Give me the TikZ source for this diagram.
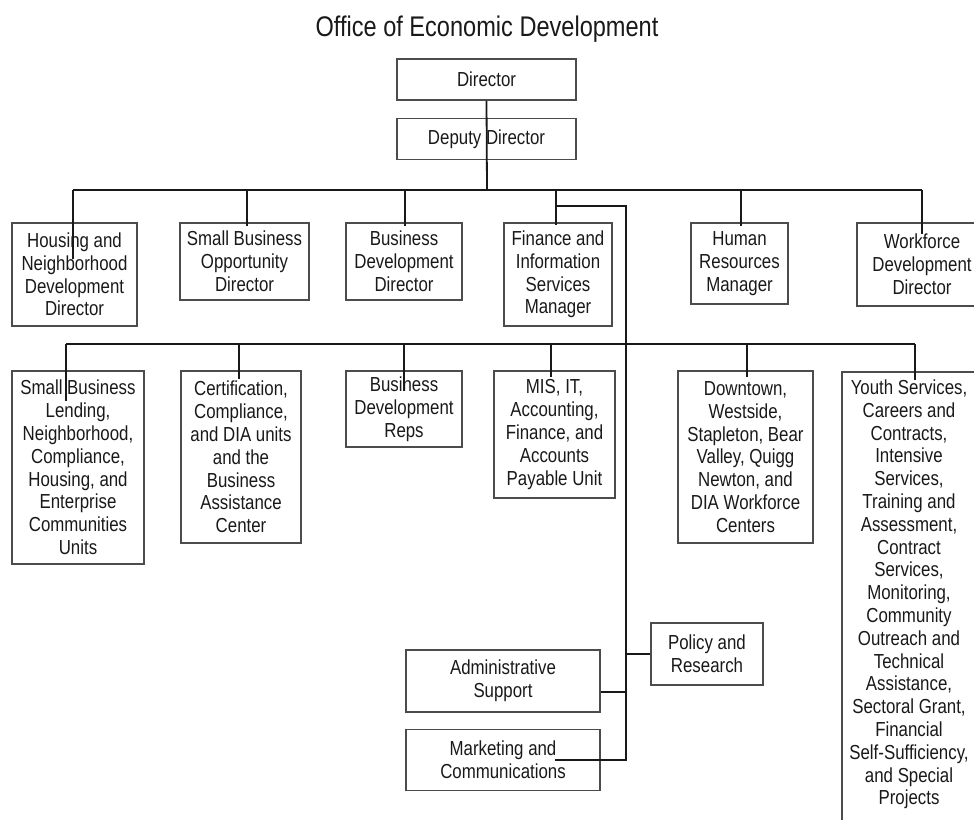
\documentclass[tikz,border=0pt]{standalone}
\usepackage{fontspec}
\setmainfont{Liberation Sans}[FakeStretch=0.83]
\usetikzlibrary{positioning}

\begin{document}
\begin{tikzpicture}[
  x=1pt, y=-1pt,
  font=\fontsize{20.3}{22.8}\selectfont,
  box/.style={draw=black!70, line width=1.6pt, align=center,
              text=black!90, inner sep=2pt},
  link/.style={line width=1.8pt, black!90},
  heading/.style={font=\fontsize{28.4}{32}\selectfont, text=black!90}
]
\useasboundingbox (0,0) rectangle (974,819);
\clip (0,0) rectangle (974,819);

% Title and the two top offices.
\node[heading, anchor=base] (title) at (487,36) {Office of Economic Development};
\node[box, minimum width=179pt, minimum height=41pt] (dir) at (486.5,79.5) {Director};
\node[box, minimum width=179pt, minimum height=41pt, below=17pt of dir] (dep) {Deputy Director};

% First row: directors and managers.
\node[box, minimum width=125pt, minimum height=103pt] (hnd) at (74.5,274.5)
  {Housing and\\Neighborhood\\Development\\Director};
\node[box, minimum width=129pt, minimum height=77pt] (sbo) at (244.5,261.5)
  {Small Business\\Opportunity\\Director};
\node[box, minimum width=116pt, minimum height=77pt] (bdd) at (404,261.5)
  {Business\\Development\\Director};
\node[box, minimum width=108pt, minimum height=103pt] (fis) at (558,274.5)
  {Finance and\\Information\\Services\\Manager};
\node[box, minimum width=97pt, minimum height=81pt] (hr) at (739.5,263.5)
  {Human\\Resources\\Manager};
\node[box, minimum width=130pt, minimum height=83pt] (wdd) at (922,264.5)
  {Workforce\\Development\\Director};

% Second row: units.
\node[box, minimum width=132pt, minimum height=193pt] (sbl) at (78,467.5)
  {Small Business\\Lending,\\Neighborhood,\\Compliance,\\Housing, and\\Enterprise\\Communities\\Units};
\node[box, minimum width=120pt, minimum height=172pt] (cert) at (241,457)
  {Certification,\\Compliance,\\and DIA units\\and the\\Business\\Assistance\\Center};
\node[box, minimum width=116pt, minimum height=76pt] (bdr) at (404,409)
  {Business\\Development\\Reps};
\node[box, minimum width=121pt, minimum height=127pt] (mis) at (554.5,434.5)
  {MIS, IT,\\Accounting,\\Finance, and\\Accounts\\Payable Unit};
\node[box, minimum width=135pt, minimum height=172pt] (dt) at (745.5,457)
  {Downtown,\\Westside,\\Stapleton, Bear\\Valley, Quigg\\Newton, and\\DIA Workforce\\Centers};
\node[box, anchor=north, minimum width=134pt, inner ysep=8pt] (ys) at (909,371)
  {Youth Services,\\Careers and\\Contracts,\\Intensive\\Services,\\Training and\\Assessment,\\Contract\\Services,\\Monitoring,\\Community\\Outreach and\\Technical\\Assistance,\\Sectoral Grant,\\Financial\\Self-Sufficiency,\\and Special\\Projects\rule[-40pt]{0pt}{0pt}};

% Staff offices hanging off the finance line.
\node[box, minimum width=112pt, minimum height=62pt] (pr) at (707,654) {Policy and\\Research};
\node[box, minimum width=194pt, minimum height=62pt] (adm) at (503,681) {Administrative\\Support};
\node[box, minimum width=194pt, minimum height=61pt, below=16pt of adm] (mkt) {Marketing and\\Communications};

% Junctions.
\coordinate (bus1) at (487,190);
\coordinate (bus2) at (626,344);
\coordinate (spine) at (626,206);
\path ([xshift=-12pt]sbl.north) coordinate (sblin);
\path ([xshift=6pt]ys.north) coordinate (ysin);
\path ([yshift=-11pt]adm.east) coordinate (admin);

% Director line and first bus.
\draw[link] (dir.south) -- (bus1);
\draw[link] ([xshift=-1.5pt]hnd.north |- bus1) -- (wdd.north |- bus1);
\foreach \n/\dx/\d in {hnd/-1.5/37,sbo/2.5/4,bdd/1/4,fis/-2/3,hr/1.5/4,wdd/0/12}{
  \path ([xshift=\dx pt]\n.north) coordinate (drop);
  \draw[link] (drop |- bus1) -- (drop) -- ++(0,\d);
}

% Finance spine down to the staff offices.
\draw[link] ([xshift=-2pt]fis.north |- spine) -- (spine) -- (spine |- mkt.east) -- ++(-71,0);
\draw[link] (spine |- pr.west) -- (pr.west);
\draw[link] (spine |- admin) -- (admin);

% Second bus.
\draw[link] (sblin |- bus2) -- (ysin |- bus2);
\draw[link] (sblin |- bus2) -- (sblin) -- ++(0,31);
\foreach \n/\dx/\d in {cert/-2/9,bdr/0/21,mis/-3.5/7,dt/1.5/7}{
  \path ([xshift=\dx pt]\n.north) coordinate (drop);
  \draw[link] (drop |- bus2) -- (drop) -- ++(0,\d);
}
\draw[link] (ysin |- bus2) -- (ysin) -- ++(0,9);
\end{tikzpicture}
\end{document}
